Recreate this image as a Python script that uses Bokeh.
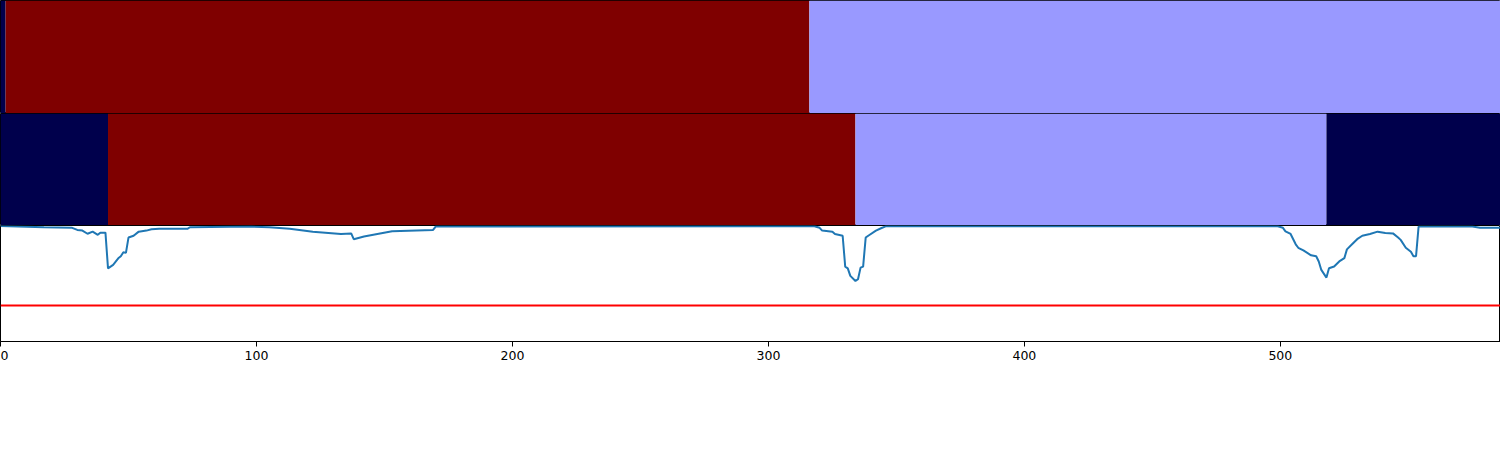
from bokeh.plotting import figure
from bokeh.layouts import column
from bokeh.models import Range1d, FixedTicker, ColumnDataSource
from bokeh.embed import file_html
from bokeh.resources import INLINE

# ---- data ----
X_MAX = 586

palette = {"low": "#00004C", "high": "#7F0000", "mid": "#9999FF"}

top_starts = [0, 2, 316]
top_ends = [2, 316, 586]
top_classes = ["low", "high", "mid"]

mid_starts = [0, 42, 334, 518]
mid_ends = [42, 334, 518, 586]
mid_classes = ["low", "high", "mid", "low"]

line_x = [0, 17, 28, 30, 32, 34, 36, 38, 39, 41, 42, 44, 46, 47, 48, 49, 50, 52, 54, 57,
          59, 62, 73, 74, 98, 105, 113, 122, 133, 137, 138, 142, 153, 169, 170, 176,
          318, 320, 321, 325, 326, 329, 330, 331, 332, 334, 335, 336, 337, 338, 339, 342,
          344, 346, 499, 501, 502, 504, 506, 507, 509, 512, 514, 515, 516, 518, 519, 521,
          523, 525, 526, 528, 530, 532, 535, 538, 541, 544, 546, 547, 549, 551, 552, 553,
          554, 575, 578, 586]
line_y = [0.995, 0.985, 0.980, 0.962, 0.956, 0.929, 0.947, 0.920, 0.938, 0.938, 0.631, 0.661,
          0.717, 0.735, 0.770, 0.764, 0.896, 0.912, 0.947, 0.956, 0.967, 0.971, 0.971, 0.985,
          0.991, 0.985, 0.971, 0.947, 0.927, 0.932, 0.882, 0.905, 0.950, 0.962, 0.991, 0.991,
          0.994, 0.980, 0.956, 0.947, 0.927, 0.912, 0.646, 0.631, 0.566, 0.522, 0.537, 0.637,
          0.646, 0.896, 0.912, 0.956, 0.976, 0.994, 0.994, 0.980, 0.950, 0.927, 0.838, 0.808,
          0.785, 0.743, 0.735, 0.690, 0.617, 0.551, 0.631, 0.646, 0.690, 0.719, 0.794, 0.838,
          0.882, 0.912, 0.927, 0.947, 0.935, 0.932, 0.896, 0.876, 0.808, 0.773, 0.735, 0.735,
          0.991, 0.991, 0.980, 0.980]
threshold = 0.31
x_ticks = [0, 100, 200, 300, 400, 500]

# ---- plotting ----
xr = Range1d(0, X_MAX)


def band_fig(starts, ends, classes, height):
    f = figure(width=1500, height=height, x_range=xr, y_range=Range1d(0, 1),
               output_backend="svg", toolbar_location=None, min_border=0,
               min_border_left=0, min_border_right=0, min_border_top=0, min_border_bottom=0)
    src = ColumnDataSource(dict(left=starts, right=ends,
                                color=[palette[c] for c in classes]))
    f.quad(left="left", right="right", bottom=0, top=1, fill_color="color",
           line_color=None, source=src)
    f.axis.visible = False
    f.grid.visible = False
    f.outline_line_color = "black"
    f.outline_line_width = 1
    f.outline_line_alpha = 1
    return f


p1 = band_fig(top_starts, top_ends, top_classes, 113)
p2 = band_fig(mid_starts, mid_ends, mid_classes, 112)

p3 = figure(width=1500, height=137, x_range=xr, y_range=Range1d(0, 1),
            output_backend="svg", toolbar_location=None, min_border=0,
            min_border_left=0, min_border_right=0, min_border_top=0, min_border_bottom=0)
p3.line(line_x, line_y, line_color="#1f77b4", line_width=2)
p3.line([0, X_MAX], [threshold, threshold], line_color="#FF0000", line_width=2)
p3.yaxis.visible = False
p3.grid.visible = False
p3.outline_line_color = "black"
p3.outline_line_alpha = 1
p3.xaxis.ticker = FixedTicker(ticks=x_ticks)
p3.xaxis.minor_tick_line_color = None
p3.xaxis.major_tick_out = 5
p3.xaxis.major_tick_in = 0
p3.xaxis.major_label_standoff = 4
p3.xaxis.axis_line_color = "black"
p3.xaxis.major_label_text_font = "DejaVu Sans"
p3.xaxis.major_label_text_font_size = "12.5px"
p3.xaxis.major_label_text_color = "black"

layout = column(p1, p2, p3, spacing=0)

open("out.html", "w").write(file_html(layout, INLINE))
